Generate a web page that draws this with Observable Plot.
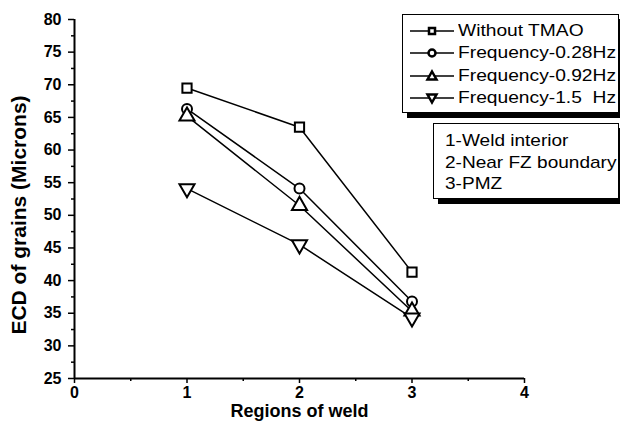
<!DOCTYPE html>
<html><head><meta charset="utf-8">
<script src="https://cdn.jsdelivr.net/npm/d3@7"></script>
<script src="https://cdn.jsdelivr.net/npm/@observablehq/plot@0.6"></script>
<style>
body{margin:0;background:#fff;font-family:"Liberation Sans",Arial,sans-serif;}
#wrap{position:relative;width:620px;height:434px;overflow:hidden;}
.box{position:absolute;background:#fff;border:1px solid #000;box-shadow:5px 5px 0 #000;box-sizing:border-box;}
.row{position:absolute;left:0;height:22px;display:flex;align-items:center;font-size:17px;white-space:pre;color:#000;}
.row svg{margin-left:7px;margin-right:4px;}
.row span{display:inline-block;transform:scaleX(1.13);transform-origin:left center;}
.txt{position:absolute;font-size:17px;white-space:pre;color:#000;transform:scaleX(1.12);transform-origin:left center;}
</style></head><body><div id="wrap"></div>
<script>
const regions = [1, 2, 3];
const seriesNames = ["Without TMAO", "Frequency-0.28Hz", "Frequency-0.92Hz", "Frequency-1.5  Hz"];
const withoutTMAO = [69.5, 63.5, 41.3];
const freq028 = [66.3, 54.1, 36.8];
const freq092 = [65.2, 51.5, 35.3];
const freq15 = [54.1, 45.5, 34.3];
const yTicks = [25, 30, 35, 40, 45, 50, 55, 60, 65, 70, 75, 80];
const yMinor = [27.5, 32.5, 37.5, 42.5, 47.5, 52.5, 57.5, 62.5, 67.5, 72.5, 77.5];
const xTicks = [0, 1, 2, 3, 4];
const xMinor = [0.5, 1.5, 2.5, 3.5];
const regionLabels = ["1-Weld interior", "2-Near FZ boundary", "3-PMZ"];
const xLabel = "Regions of weld";
const yLabel = "ECD of grains (Microns)";

const triDown = {
  draw(context, size) {
    const y = -Math.sqrt(size / (Math.sqrt(3) * 3));
    context.moveTo(0, -y * 2);
    context.lineTo(-Math.sqrt(3) * y, y);
    context.lineTo(Math.sqrt(3) * y, y);
    context.closePath();
  }
};
const symbols = ["square", "circle", "triangle", triDown];
const radii = [5.2, 5, 5.6, 5.6];
const allValues = [withoutTMAO, freq028, freq092, freq15];

const data = [];
allValues.forEach((vals, i) => vals.forEach((v, j) => data.push({series: seriesNames[i], region: regions[j], value: v})));

const dotMarks = seriesNames.map((name, i) =>
  Plot.dot(data.filter(d => d.series === name), {
    x: "region", y: "value", symbol: symbols[i], r: radii[i],
    fill: "white", stroke: "black", strokeWidth: 2
  })
);

const chart = Plot.plot({
  width: 620, height: 434,
  marginLeft: 74, marginRight: 96, marginTop: 19, marginBottom: 56,
  style: {fontFamily: "Liberation Sans, Arial, sans-serif", color: "black", background: "white"},
  x: {domain: [0, 4]},
  y: {domain: [25, 80]},
  marks: [
    Plot.axisY({ticks: yTicks, tickSize: 6, tickPadding: 7, fontSize: 16, fontWeight: "bold", label: null, strokeWidth: 1.5, tickFormat: d3.format("d")}),
    Plot.axisY({ticks: yMinor, tickSize: 3, tickFormat: () => "", label: null, strokeWidth: 1.5}),
    Plot.axisX({ticks: xTicks, tickSize: 5, tickPadding: 3, fontSize: 16, fontWeight: "bold", label: null, strokeWidth: 1.5, tickFormat: d3.format("d")}),
    Plot.axisX({ticks: xMinor, tickSize: 3, tickFormat: () => "", label: null, strokeWidth: 1.5}),
    Plot.ruleX([0], {strokeWidth: 2}),
    Plot.ruleY([25], {strokeWidth: 2}),
    Plot.text([xLabel], {frameAnchor: "bottom", lineAnchor: "middle", dy: 33, fontSize: 18, fontWeight: "bold", text: d => d}),
    Plot.text([yLabel], {frameAnchor: "left", textAnchor: "middle", lineAnchor: "middle", dx: -55, dy: 16, rotate: -90, fontSize: 21, fontWeight: "bold", text: d => d}),
    Plot.line(data, {x: "region", y: "value", z: "series", stroke: "black", strokeWidth: 1.5}),
    ...dotMarks
  ]
});

const wrap = document.getElementById("wrap");
wrap.appendChild(chart);

// legend box 1
const box1 = document.createElement("div");
box1.className = "box";
Object.assign(box1.style, {left: "402px", top: "14px", width: "217px", height: "99px"});
const symPaths = [
  '<rect x="19" y="7" width="6" height="6" fill="white" stroke="black" stroke-width="2.5"/>',
  '<circle cx="22" cy="10" r="3.5" fill="white" stroke="black" stroke-width="2.5"/>',
  '<path d="M22,5.5 L26.5,13.5 L17.5,13.5 Z" fill="white" stroke="black" stroke-width="2.5" stroke-linejoin="miter"/>',
  '<path d="M22,14.5 L26.5,6.5 L17.5,6.5 Z" fill="white" stroke="black" stroke-width="2.5" stroke-linejoin="miter"/>'
];
seriesNames.forEach((name, i) => {
  const r = document.createElement("div");
  r.className = "row";
  r.style.top = (5 + i * 22.4) + "px";
  r.innerHTML = '<svg width="44" height="20"><line x1="0" y1="10" x2="44" y2="10" stroke="black" stroke-width="1.5"/>' + symPaths[i] + '</svg>';
  const s = document.createElement("span");
  s.textContent = name;
  r.appendChild(s);
  box1.appendChild(r);
});
wrap.appendChild(box1);

const box2 = document.createElement("div");
box2.className = "box";
Object.assign(box2.style, {left: "433px", top: "123px", width: "186px", height: "76px"});
regionLabels.forEach((t, i) => {
  const d = document.createElement("div");
  d.className = "txt";
  d.style.left = "11px";
  d.style.top = (7 + i * 21.5) + "px";
  d.textContent = t;
  box2.appendChild(d);
});
wrap.appendChild(box2);
</script></body></html>
